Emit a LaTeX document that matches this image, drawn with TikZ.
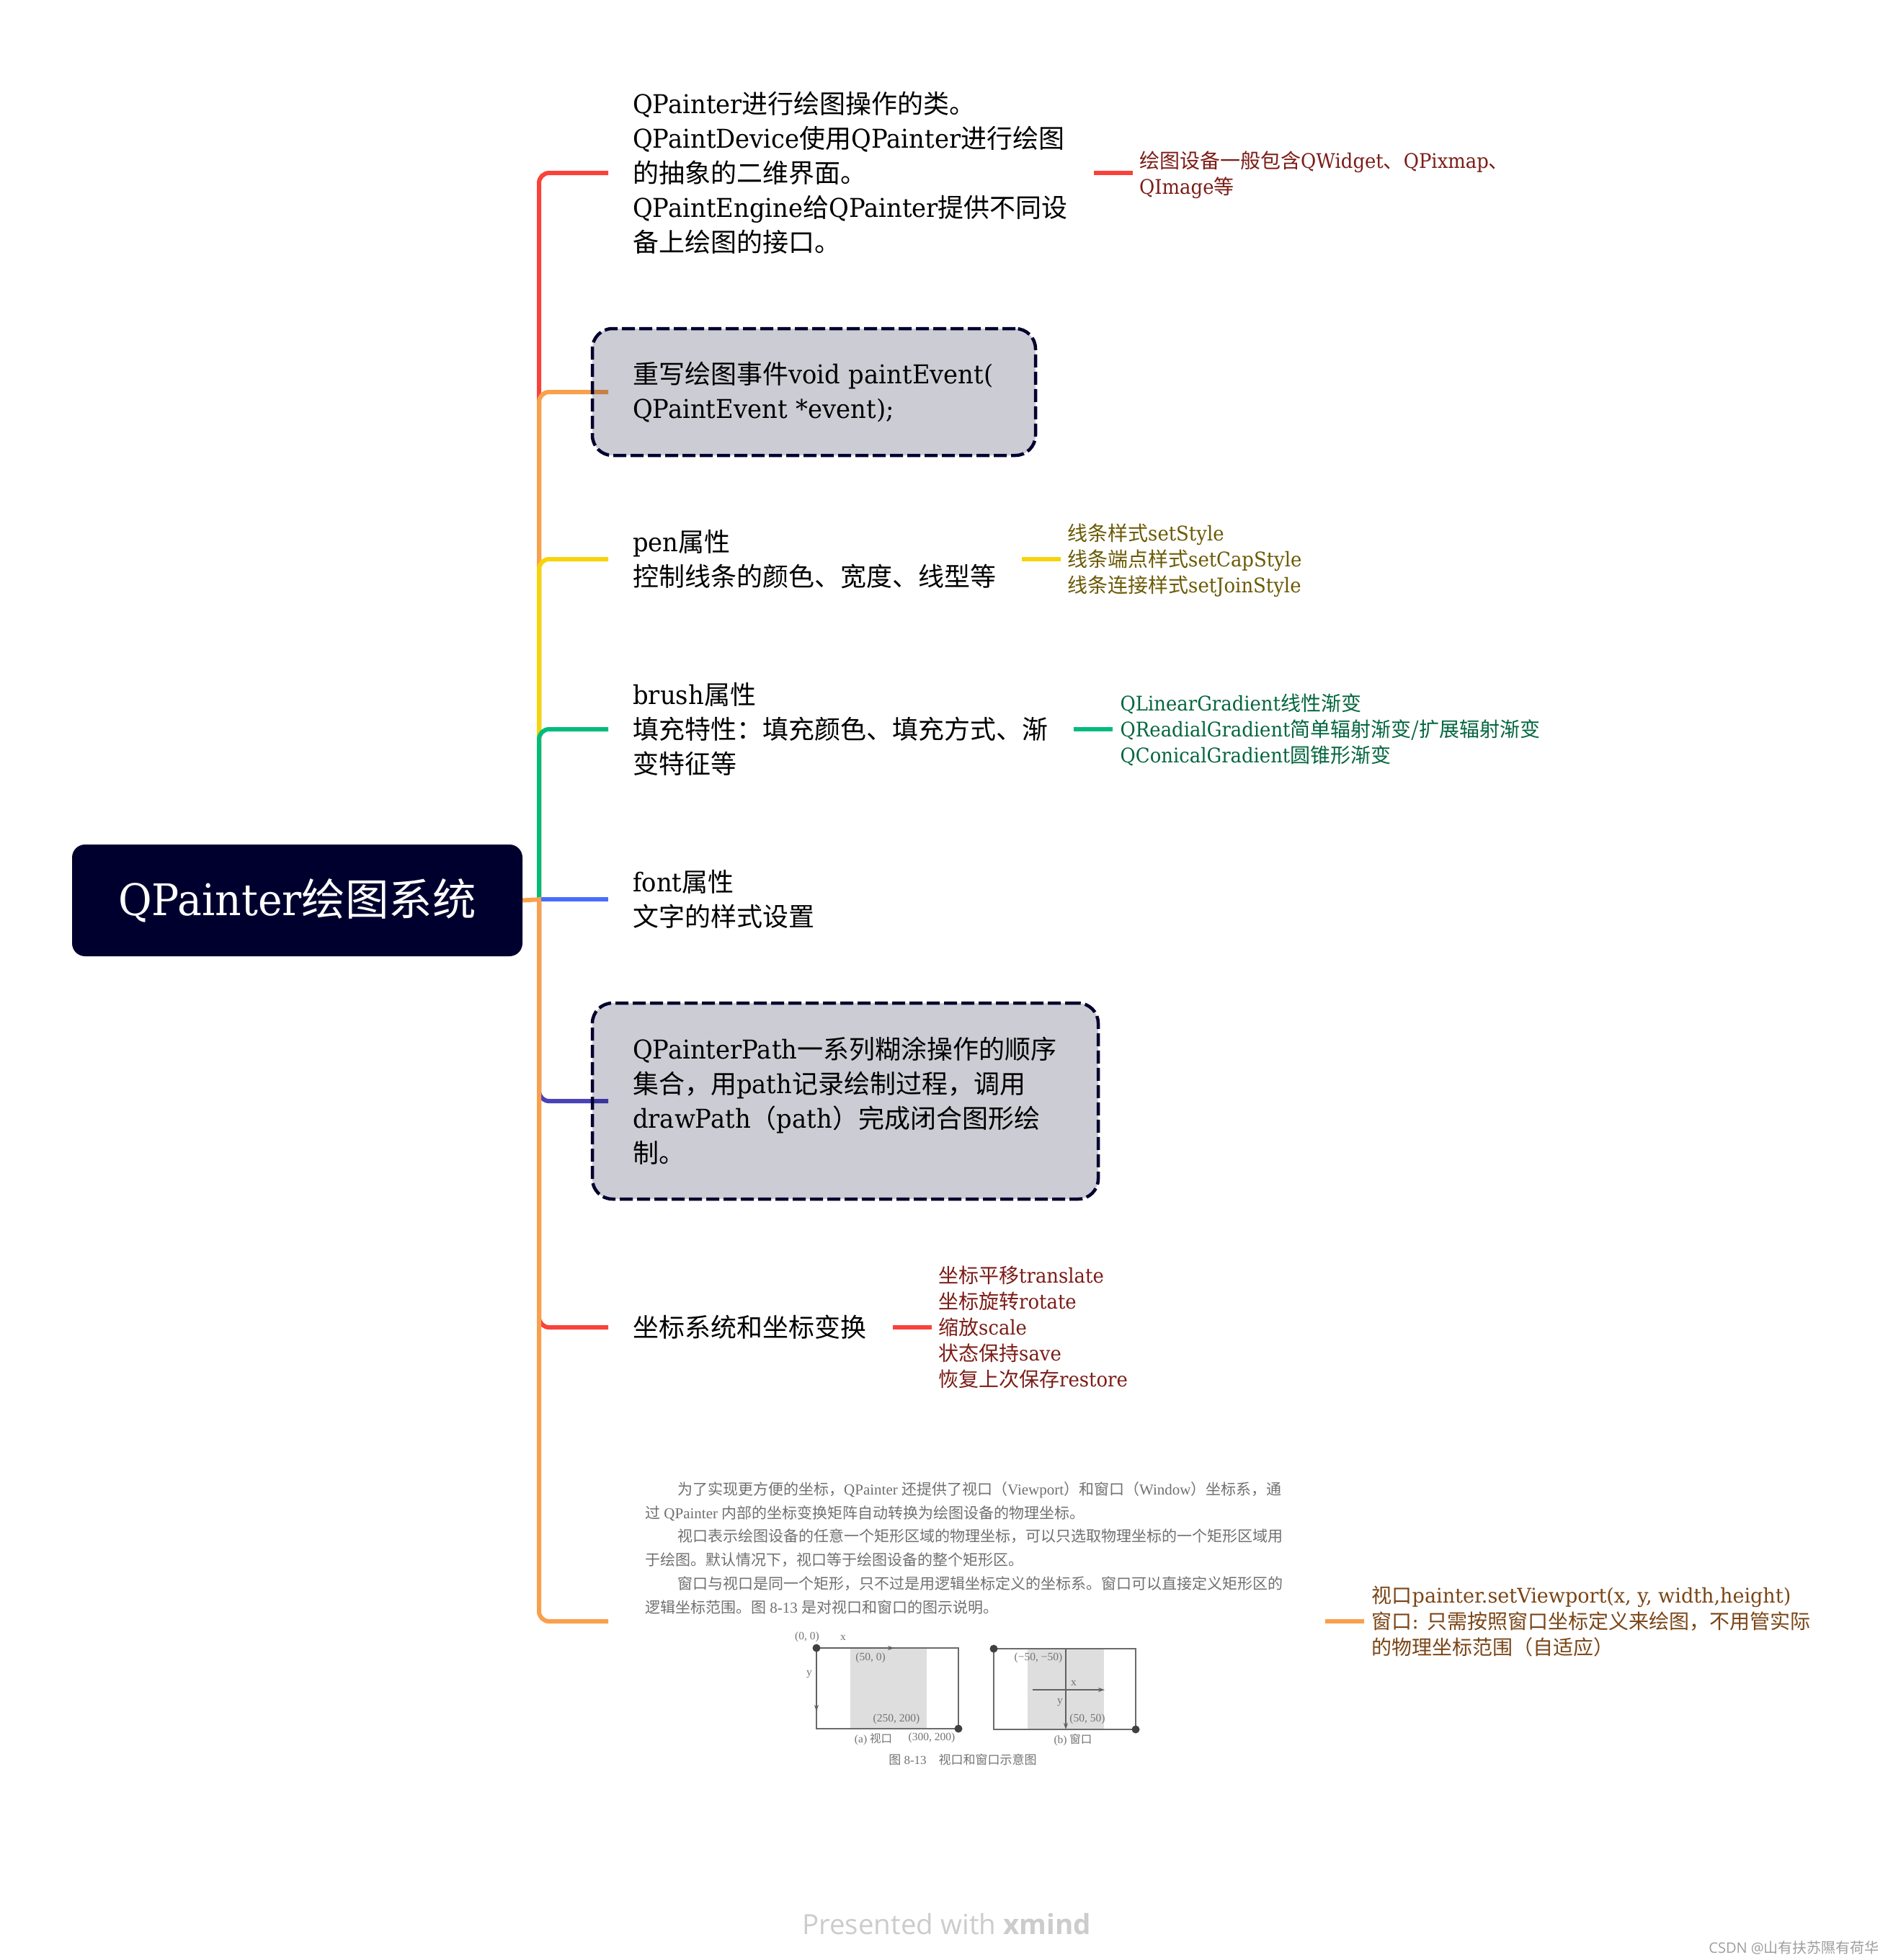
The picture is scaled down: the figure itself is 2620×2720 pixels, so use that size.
\documentclass[tikz,border=0pt]{standalone}
\usepackage{fontspec}
\usetikzlibrary{arrows.meta,backgrounds}
\setmainfont[FakeStretch=0.94]{DejaVu Serif}
\newfontfamily\subfont[FakeStretch=0.925]{DejaVu Serif}
\newfontfamily\subwide[FakeStretch=0.965]{DejaVu Serif}
\newfontfamily\zhfont{Noto Sans CJK SC}
\newfontfamily\scanfont{Liberation Serif}
\newfontfamily\uifont{Open Sans}
\newcommand\zh[1]{{\zhfont #1}}
\definecolor{navy}{HTML}{00002E}
\definecolor{cRed}{HTML}{F9423A}
\definecolor{cOrange}{HTML}{F9A04C}
\definecolor{cYellow}{HTML}{F6D409}
\definecolor{cGreen}{HTML}{00BC7B}
\definecolor{cBlue}{HTML}{4A6CFF}
\definecolor{cPurple}{HTML}{4A42B8}
\definecolor{dRed}{HTML}{7C1D18}
\definecolor{dYellow}{HTML}{6B5A04}
\definecolor{dGreen}{HTML}{04663F}
\definecolor{dOrange}{HTML}{7A4516}
\definecolor{scan}{HTML}{707070}
\tikzset{
  x=1pt,y=-1pt,
  root/.style={fill=navy,text=white,rounded corners=18pt,anchor=center,minimum width=625pt,minimum height=155pt,inner sep=0pt,font=\fontsize{60.5}{70}\selectfont},
  topic/.style={anchor=west,align=left,inner xsep=34pt,inner ysep=0pt,font=\fontsize{36}{48}\selectfont,text=black},
  boxed/.style={anchor=west,align=left,inner xsep=56pt,inner ysep=0pt,outer sep=0pt,font=\fontsize{36}{48}\selectfont,text=black,
    fill=navy,fill opacity=.2,draw=navy,draw opacity=1,text opacity=1,line width=4.5pt,dash pattern=on 18pt off 6pt,rounded corners=28pt},
  sub/.style={anchor=west,align=left,inner xsep=9pt,inner ysep=0pt,font=\subfont\fontsize{28}{36}\selectfont},
  link/.style={line width=6pt,rounded corners=14pt},
  stub/.style={line width=6pt},
  shade/.style={fill=black!13,draw=none},
  frameline/.style={draw=black!58,line width=2pt},
  axis/.style={draw=black!62,line width=1.5pt,-{Stealth[length=9pt,width=6pt]}},
  dot/.style={circle,fill=black!75,inner sep=0pt,minimum size=11pt},
  scanlab/.style={text=black!55,inner sep=0pt,font=\scanfont\fontsize{15.5}{18}\selectfont},
  scancap/.style={text=black!55,inner sep=0pt,font=\scanfont\fontsize{17}{20}\selectfont},
}
\begin{document}
\begin{tikzpicture}
\useasboundingbox (0,0) rectangle (2620,2720);
% nodes
\node[root] (r) at (412.5,1249.5) {QPainter\zh{绘图系统}};
\coordinate (J) at (748,1248);

\node[topic,text width=606pt] (t1) at (844,240) {QPainter\zh{进行绘图操作的类。}\\QPaintDevice\zh{使用}QPainter\zh{进行绘图}\\\zh{的抽象的二维界面。}\\QPaintEngine\zh{给}QPainter\zh{提供不同设}\\\zh{备上绘图的接口。}};
\node[sub,text=dRed] (s1) at (1572,242.5) {\zh{绘图设备一般包含}QWidget\zh{、}QPixmap\zh{、}\\QImage\zh{等}};

\node[boxed,text width=503pt,minimum height=176pt] (b1) at (822,544) {\mbox{\zh{重写绘图事件}void paintEvent(}\\QPaintEvent *event);};

\node[topic,text width=506pt] (t3) at (844,776) {pen\zh{属性}\\\zh{控制线条的颜色、宽度、线型等}};
\node[sub,text=dYellow] (s3) at (1472,778) {\zh{线条样式}setStyle\\\zh{线条端点样式}setCapStyle\\\zh{线条连接样式}setJoinStyle};

\node[topic,text width=578pt] (t4) at (844,1012) {brush\zh{属性}\\\zh{填充特性：填充颜色、填充方式、渐}\\\zh{变特征等}};
\node[sub,inner xsep=10.5pt,text=dGreen] (s4) at (1544,1012.5) {QLinearGradient\zh{线性渐变}\\QReadialGradient\zh{简单辐射渐变/扩展辐射渐变}\\QConicalGradient\zh{圆锥形渐变}};

\node[topic,text width=300pt] (t5) at (844,1248) {font\zh{属性}\\\zh{文字的样式设置}};

\node[boxed,text width=590pt,minimum height=272pt] (b2) at (822,1528) {QPainterPath\zh{一系列糊涂操作的顺序}\\\zh{集合，用}path\zh{记录绘制过程，调用}\\drawPath\zh{（}path\zh{）完成闭合图形绘}\\\zh{制。}};

\node[topic,text width=327pt] (t7) at (844,1842) {\zh{坐标系统和坐标变换}};
\node[sub,text=dRed] (s7) at (1293,1842) {\zh{坐标平移}translate\\\zh{坐标旋转}rotate\\\zh{缩放}scale\\\zh{状态保持}save\\\zh{恢复上次保存}restore};

\coordinate (t8) at (844,2250);
\coordinate (t8e) at (1839,2250);
\node[sub,inner xsep=10.5pt,text=dOrange,font=\subwide\fontsize{28}{36}\selectfont] (s8) at (1893,2250) {\zh{视口}painter.setViewport(x, y, width,height)\\\zh{窗口}: \zh{只需按照窗口坐标定义来绘图，不用管实际}\\\zh{的物理坐标范围（自适应）}};

% scanned picture: text
\node[anchor=north west,align=left,inner sep=0pt,text=scan,font=\scanfont\fontsize{21}{32.8}\selectfont] (scantext) at (895,2056) {%
\hspace*{45pt}\zh{为了实现更方便的坐标，}QPainter \zh{还提供了视口（}Viewport\zh{）和窗口（}Window\zh{）坐标系，通}\\
\zh{过} QPainter \zh{内部的坐标变换矩阵自动转换为绘图设备的物理坐标。}\\
\hspace*{45pt}\zh{视口表示绘图设备的任意一个矩形区域的物理坐标，可以只选取物理坐标的一个矩形区域用}\\
\zh{于绘图。默认情况下，视口等于绘图设备的整个矩形区。}\\
\hspace*{45pt}\zh{窗口与视口是同一个矩形，只不过是用逻辑坐标定义的坐标系。窗口可以直接定义矩形区的}\\
\zh{逻辑坐标范围。图} 8-13 \zh{是对视口和窗口的图示说明。}};

% scanned picture: figure
\fill[shade] (1180,2287) rectangle (1286,2399);
\fill[shade] (1426,2288) rectangle (1532,2400);
\path[frameline] (1133,2287) rectangle (1330,2399);
\path[frameline] (1379,2288) rectangle (1576,2400);
\path[axis] (1133,2287) -- (1241,2287);
\path[axis] (1133,2287) -- (1133,2375);
\path[axis] (1433,2345) -- (1533,2345);
\path[axis] (1479,2288) -- (1479,2400);
\node[dot] (d1) at (1133,2287) {};
\node[dot] (d2) at (1330,2399) {};
\node[dot] (d3) at (1379,2288) {};
\node[dot] (d4) at (1576,2400) {};
\node[scanlab] (l1) at (1120,2272) {(0, 0)};
\node[scanlab] (l2) at (1170,2273) {x};
\node[scanlab] (l3) at (1208,2301) {(50, 0)};
\node[scanlab] (l4) at (1123,2324) {y};
\node[scanlab] (l5) at (1244,2386) {(250, 200)};
\node[scanlab] (l6) at (1212,2414) {(a) \zh{视口}};
\node[scanlab] (l7) at (1293,2412) {(300, 200)};
\node[scanlab] (l8) at (1441,2301) {(−50, −50)};
\node[scanlab] (l9) at (1490,2336) {x};
\node[scanlab] (l10) at (1471,2363) {y};
\node[scanlab] (l11) at (1509,2386) {(50, 50)};
\node[scanlab] (l12) at (1489,2415) {(b) \zh{窗口}};
\node[scancap] (l13) at (1336,2442) {\zh{图} 8-13\quad\zh{视口和窗口示意图}};

% footer
\node[inner sep=0pt,text=black!20,font=\uifont\fontsize{38.5}{44}\selectfont] (foot) at (1313.5,2670) {Presented with \textbf{xmind}};
\node[anchor=east,inner sep=0pt,text=black!38,font=\uifont\fontsize{20}{24}\selectfont] (mark) at (2608,2703) {CSDN @\zh{山有扶苏隰有荷华}};

% connectors
\begin{scope}[on background layer]
\fill[white] (0,0) rectangle (2620,2720);
\draw[link,cRed]    (J) |- (t1.west);
\draw[link,cOrange] (J) |- ([xshift=22pt]b1.west);
\draw[link,cYellow] (J) |- (t3.west);
\draw[link,cGreen]  (J) |- (t4.west);
\draw[stub,cBlue]   (J) -- (t5.west);
\draw[link,cPurple] (J) |- ([xshift=22pt]b2.west);
\draw[link,cRed]    (J) |- (t7.west);
\draw[link,cOrange] ([yshift=-3pt]J) |- (t8);
\draw[stub,cOrange] (r.east) -- ([xshift=3pt]J);
\draw[stub,cRed]    (t1.east) -- (t1.east -| s1.west);
\draw[stub,cYellow] (t3.east) -- (t3.east -| s3.west);
\draw[stub,cGreen]  (t4.east) -- (t4.east -| s4.west);
\draw[stub,cRed]    (t7.east) -- (s7.west);
\draw[stub,cOrange] (t8e) -- (s8.west);
\end{scope}
\end{tikzpicture}
\end{document}
